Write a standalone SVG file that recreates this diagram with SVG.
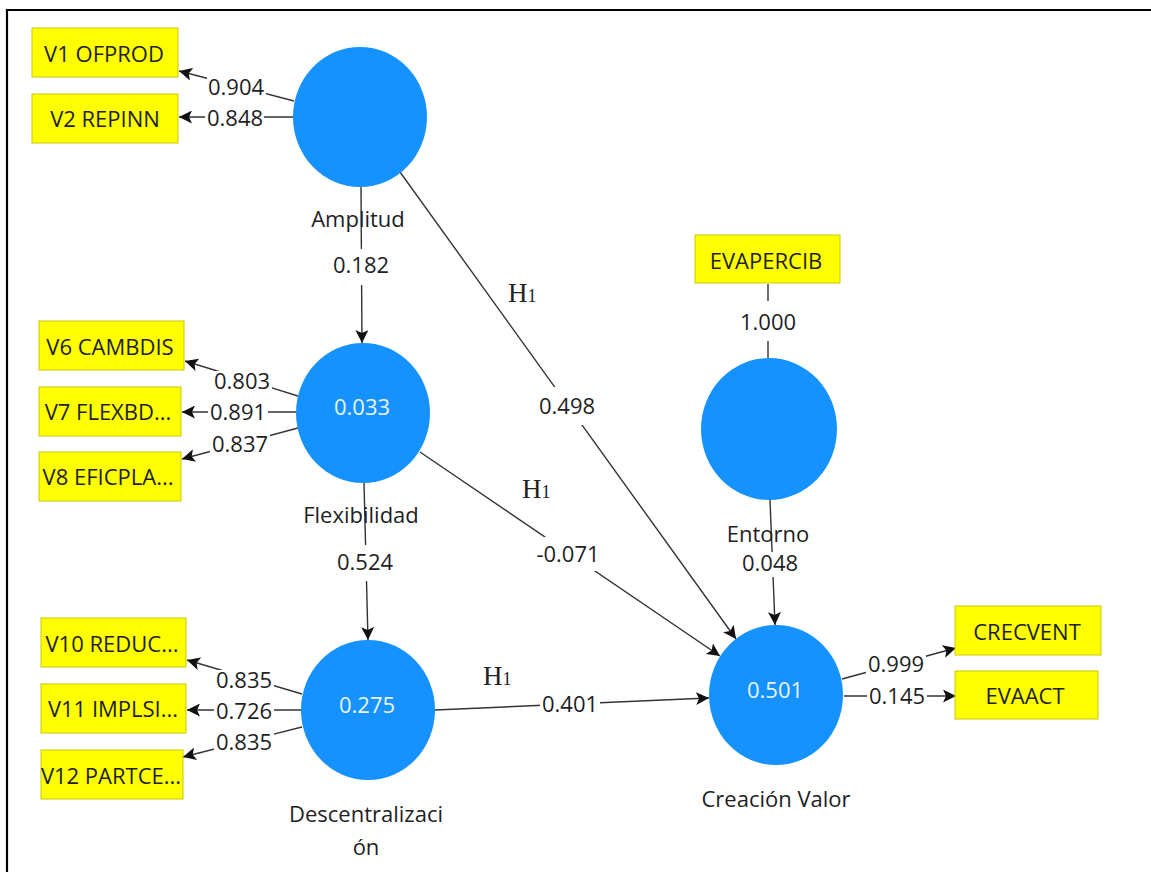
<svg xmlns="http://www.w3.org/2000/svg" width="1151" height="872" viewBox="0 0 1151 872">
<style>
.t{font-family:"Open Sans","Noto Sans",sans-serif;font-size:22px;fill:#1e1e24;text-anchor:middle}
.w{font-family:"Open Sans","Noto Sans",sans-serif;font-size:22px;fill:#eaf3ff;text-anchor:middle}
.box{fill:#ffff00;stroke:#c9c900;stroke-width:1}
.lv{fill:#1592fe}
.ln{stroke:#333;stroke-width:1.4;fill:none}
.a{marker-end:url(#arr)}
.bg{fill:#fff}
.h{font-family:"Liberation Serif","Times New Roman",serif;font-size:27px;fill:#222}
</style>
<defs>
<marker id="arr" markerWidth="14" markerHeight="13" refX="13" refY="6.5" orient="auto" markerUnits="userSpaceOnUse">
<path d="M0,0 L13,6.5 L0,13 L3,6.5 z" fill="#111"/>
</marker>
</defs>
<g id="frame">
<line x1="6" y1="10" x2="1151" y2="10" stroke="#000" stroke-width="2.2"/>
<line x1="7" y1="9" x2="7" y2="872" stroke="#000" stroke-width="2.2"/>
</g>
<g id="connectors">
<line class="ln a" x1="294" y1="101" x2="179" y2="71"/>
<line class="ln a" x1="293" y1="117" x2="179" y2="117"/>
<line class="ln a" x1="298" y1="396" x2="185" y2="361"/>
<line class="ln a" x1="296" y1="412" x2="182" y2="412"/>
<line class="ln a" x1="298" y1="428" x2="182" y2="459"/>
<line class="ln a" x1="302" y1="694" x2="187" y2="660"/>
<line class="ln a" x1="302" y1="710" x2="187" y2="710"/>
<line class="ln a" x1="302" y1="727" x2="183" y2="757"/>
<line class="ln a" x1="842" y1="679" x2="956" y2="648"/>
<line class="ln a" x1="844" y1="696" x2="956" y2="696"/>
<line class="ln" x1="768" y1="284" x2="768" y2="358"/>
<line class="ln a" x1="361" y1="187" x2="362" y2="343"/>
<line class="ln a" x1="364" y1="483" x2="368" y2="640"/>
<line class="ln a" x1="400" y1="172" x2="736" y2="639"/>
<line class="ln a" x1="420" y1="452" x2="720" y2="656"/>
<line class="ln a" x1="435" y1="710" x2="709" y2="698"/>
<line class="ln a" x1="770" y1="500" x2="775" y2="625"/>
<g id="labels">
<rect class="bg" x="207" y="77" width="59" height="21"/><text class="t" x="236" y="95">0.904</text>
<rect class="bg" x="205" y="108" width="59" height="21"/><text class="t" x="235" y="126">0.848</text>
<rect class="bg" x="212" y="371" width="60" height="21"/><text class="t" x="242" y="389">0.803</text>
<rect class="bg" x="208" y="402" width="60" height="21"/><text class="t" x="238" y="420">0.891</text>
<rect class="bg" x="210" y="434" width="60" height="21"/><text class="t" x="240" y="452">0.837</text>
<rect class="bg" x="214" y="670" width="60" height="21"/><text class="t" x="244" y="688">0.835</text>
<rect class="bg" x="214" y="701" width="60" height="21"/><text class="t" x="244" y="719">0.726</text>
<rect class="bg" x="214" y="732" width="60" height="21"/><text class="t" x="244" y="750">0.835</text>
<rect class="bg" x="866" y="654" width="60" height="21"/><text class="t" x="896" y="672">0.999</text>
<rect class="bg" x="867" y="686" width="60" height="21"/><text class="t" x="897" y="704">0.145</text>
<rect class="bg" x="738" y="301" width="60" height="40"/><text class="t" x="768" y="330">1.000</text>
<rect class="bg" x="331" y="249" width="60" height="36"/><text class="t" x="361" y="273">0.182</text>
<rect class="bg" x="335" y="545" width="60" height="36"/><text class="t" x="365" y="570">0.524</text>
<rect class="bg" x="537" y="387" width="60" height="38"/><text class="t" x="567" y="414">0.498</text>
<rect class="bg" x="533" y="537" width="72" height="34"/><text class="t" x="568" y="562">-0.071</text>
<rect class="bg" x="540" y="694" width="60" height="21"/><text class="t" x="570" y="712">0.401</text>
<rect class="bg" x="740" y="552" width="60" height="25"/><text class="t" x="770" y="571">0.048</text>
<text class="h" x="508" y="302">H<tspan font-size="18">1</tspan></text>
<text class="h" x="522" y="498">H<tspan font-size="18">1</tspan></text>
<text class="h" x="483" y="685">H<tspan font-size="18">1</tspan></text>
</g>
</g>
<g id="node-amplitud"><ellipse class="lv" cx="360" cy="117" rx="67" ry="70"/><text class="t" x="358" y="227">Amplitud</text></g>
<g id="node-flexibilidad"><ellipse class="lv" cx="363" cy="413" rx="67" ry="70"/><text class="w" x="362" y="415">0.033</text><text class="t" x="361" y="523">Flexibilidad</text></g>
<g id="node-descentralizacion"><ellipse class="lv" cx="368" cy="710" rx="67" ry="70"/><text class="w" x="367" y="713">0.275</text><text class="t" x="366" y="822">Descentralizaci</text><text class="t" x="366" y="855">ón</text></g>
<g id="node-entorno"><ellipse class="lv" cx="769" cy="429" rx="68" ry="71"/><text class="t" x="768" y="542">Entorno</text></g>
<g id="node-creacion"><ellipse class="lv" cx="776" cy="695" rx="67" ry="70"/><text class="w" x="775" y="698">0.501</text><text class="t" x="776" y="807">Creación Valor</text></g>
<g id="ind-v1"><rect class="box" x="32" y="28" width="146" height="49"/><text class="t" x="104" y="62">V1 OFPROD</text></g>
<g id="ind-v2"><rect class="box" x="32" y="94" width="146" height="49"/><text class="t" x="105" y="127">V2 REPINN</text></g>
<g id="ind-v6"><rect class="box" x="39" y="321" width="145" height="49"/><text class="t" x="110" y="355">V6 CAMBDIS</text></g>
<g id="ind-v7"><rect class="box" x="39" y="387" width="142" height="49"/><text class="t" x="108" y="420">V7 FLEXBD...</text></g>
<g id="ind-v8"><rect class="box" x="39" y="452" width="142" height="49"/><text class="t" x="108" y="485">V8 EFICPLA...</text></g>
<g id="ind-v10"><rect class="box" x="41" y="618" width="145" height="49"/><text class="t" x="112" y="652">V10 REDUC...</text></g>
<g id="ind-v11"><rect class="box" x="41" y="684" width="145" height="49"/><text class="t" x="113" y="717">V11 IMPLSI...</text></g>
<g id="ind-v12"><rect class="box" x="41" y="750" width="142" height="49"/><text class="t" x="111" y="784">V12 PARTCE...</text></g>
<g id="ind-evapercib"><rect class="box" x="695" y="235" width="145" height="48"/><text class="t" x="766" y="269">EVAPERCIB</text></g>
<g id="ind-crecvent"><rect class="box" x="955" y="606" width="146" height="49"/><text class="t" x="1027" y="640">CRECVENT</text></g>
<g id="ind-evaact"><rect class="box" x="955" y="671" width="143" height="48"/><text class="t" x="1025" y="704">EVAACT</text></g>
</svg>
